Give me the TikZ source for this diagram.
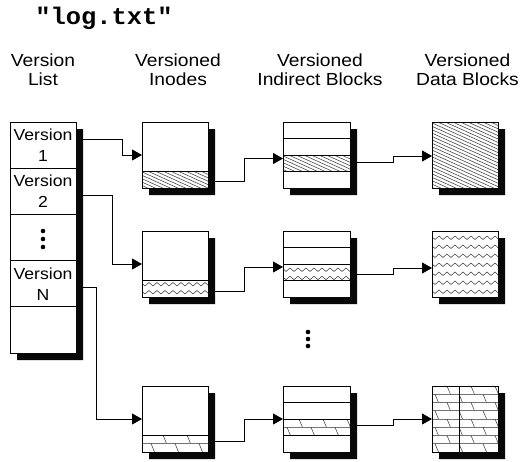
\documentclass[tikz,border=0pt]{standalone}
\usepackage{fontspec}
\setmainfont{Liberation Sans}
\newfontfamily\headfont{Liberation Sans}[FakeStretch=1.1]
\newfontfamily\logfont{Liberation Mono}[FakeStretch=1.06]
\usetikzlibrary{arrows.meta,calc}

\definecolor{shadowcol}{RGB}{8,8,8}
\tikzset{
  patline/.style={line width=0.55pt, draw=black!75},
  brickline/.style={line width=0.55pt, draw=black!55},
  outline/.style={line width=0.8pt, draw=black},
  shadowfill/.style={fill=shadowcol},
  box/.style={draw=black, line width=0.8pt, inner sep=0pt, outer sep=0pt,
    anchor=north west, minimum width=66pt, minimum height=66pt},
  rowbox/.style={draw=black, line width=0.8pt, inner sep=0pt, outer sep=0pt,
    anchor=north west, minimum width=66pt, minimum height=46.2pt, align=center,
    font=\headfont\fontsize{16}{21}\selectfont},
  head/.style={anchor=base, inner sep=0pt, font=\headfont\fontsize{17.5}{19}\selectfont},
  conn/.style={line width=0.8pt, draw=black, -{Triangle[length=10pt,width=11pt]}},
  dot/.style={fill=black},
}

\newcommand\hatchfill[4]{%
  \begin{scope}
    \clip (#1,#2) -- (#3,#2) -- (#3,#4) -- (#1,#4) -- cycle;
    \foreach \k in {-11,...,20}
      \draw[patline] (#1-2,#2+3.4*\k) -- ++(80,36);
  \end{scope}}

\newcommand\zigfill[7]{%
  \begin{scope}
    \clip (#1,#2) -- (#3,#2) -- (#3,#4) -- (#1,#4) -- cycle;
    \foreach \r in {1,...,#7}
      \draw[patline] (#1-1,#5+#6*\r-#6) \foreach \i in {1,...,9} {-- ++(4,3.5) -- ++(4,-3.5)};
  \end{scope}}

\newcommand\brickfill[7]{%
  \begin{scope}
    \clip (#1,#2) -- (#3,#2) -- (#3,#4) -- (#1,#4) -- cycle;
    \foreach \r in {1,...,#6}{
      \draw[brickline] (#1,#2+#5*\r-#5) -- (#3,#2+#5*\r-#5);
      \foreach \j in {0,...,3}{
        \pgfmathsetmacro\xx{#1+#7+mod(\r,2)*12+24*\j}
        \draw[patline] (\xx,#2+#5*\r-#5) -- ++(3.5,#5);
      }
    }
  \end{scope}}

\begin{document}
\begin{tikzpicture}[x=1pt,y=-1pt]
\useasboundingbox (0,0) rectangle (521,461);

% titles
\node[anchor=base, inner sep=0pt, font=\logfont\bfseries\fontsize{24}{26}\selectfont] (title) at (104,24) {"log.txt"};
\node[head] (h1a) at (43,66) {Version};
\node[head] (h1b) at (43,85) {List};
\node[head] (h2a) at (178,66) {Versioned};
\node[head] (h2b) at (178,85) {Inodes};
\node[head] (h3a) at (320,66) {Versioned};
\node[head] (h3b) at (320,85) {Indirect Blocks};
\node[head] (h4a) at (467.5,66) {Versioned};
\node[head] (h4b) at (467.5,85) {Data Blocks};

% version list
\node[box, minimum height=231pt] (list) at (10,122) {};
\node[rowbox] (r1) at (10,122) {Version\\1};
\node[rowbox] (r2) at (10,168.2) {Version\\2};
\node[rowbox] (r3) at (10,214.4) {};
\node[rowbox] (r4) at (10,260.6) {Version\\N};
\node[rowbox] (r5) at (10,306.8) {};
\fill[dot] (43,231) circle (2.3) (43,239) circle (2.3) (43,247) circle (2.3);

% boxes
\node[box] (in1) at (142,122) {};
\node[box] (in2) at (142,231) {};
\node[box] (in3) at (142,386) {};
\node[box, minimum width=67pt] (ib1) at (283,122) {};
\node[box, minimum width=67pt] (ib2) at (283,231) {};
\node[box, minimum width=67pt] (ib3) at (283,386) {};
\node[box] (db1) at (432,122) {};
\node[box] (db2) at (432,231) {};
\node[box] (db3) at (432,386) {};

% patterns
\hatchfill{142}{171}{208}{188}
\hatchfill{283}{155}{350}{171.5}
\hatchfill{432}{122}{498}{188}
\zigfill{142}{280}{208}{297}{282.5}{8}{2}
\zigfill{283}{264}{350}{280.5}{268}{8.2}{2}
\zigfill{432}{231}{498}{297}{236}{9}{7}
\brickfill{142}{435}{208}{452}{8.5}{2}{9}
\brickfill{283}{419}{350}{435.5}{8.25}{2}{4}
\brickfill{432}{386}{498}{452}{8.25}{8}{3}
\draw[outline] (459,386) -- (459,452);

% dividers and outlines
\draw[outline] (142,171) -- (208,171);
\draw[outline] (142,280) -- (208,280);
\draw[outline] (142,435) -- (208,435);
\foreach \t in {122,231,386}{
  \draw[outline] (283,\t+16.5) -- (350,\t+16.5);
  \draw[outline] (283,\t+33) -- (350,\t+33);
  \draw[outline] (283,\t+49.5) -- (350,\t+49.5);
}
\foreach \n in {in1,in2,in3,ib1,ib2,ib3,db1,db2,db3}
  \draw[outline] (\n.north west) rectangle (\n.south east);

% middle dots
\fill[dot] (308,332) circle (2.3) (308,339) circle (2.3) (308,346) circle (2.3);

% connectors
\draw[conn] ($(r1.east)+(0,-6)$) -| ($(in1.west)+(-20,0)$) -- (in1.west);
\draw[conn] ($(r2.east)+(0,4)$) -| ($(in2.west)+(-30,0)$) -- (in2.west);
\draw[conn] ($(r4.east)+(0,4)$) -| ($(in3.west)+(-46,0)$) -- (in3.west);

\draw[conn] ($(in1.east)+(0,26)$) -| ($(ib1.west)+(-39,3.5)$) -- ($(ib1.west)+(0,3.5)$);
\draw[conn] ($(in2.east)+(0,27)$) -| ($(ib2.west)+(-39,3)$) -- ($(ib2.west)+(0,3)$);
\draw[conn] ($(in3.east)+(0,22)$) -| ($(ib3.west)+(-39,0)$) -- (ib3.west);

\draw[conn] ($(ib1.east)+(0,7)$) -| ($(db1.west)+(-39,1)$) -- ($(db1.west)+(0,1)$);
\draw[conn] ($(ib2.east)+(0,10)$) -| ($(db2.west)+(-39,4)$) -- ($(db2.west)+(0,4)$);
\draw[conn] ($(ib3.east)+(0,6)$) -| ($(db3.west)+(-39,0)$) -- (db3.west);

% drop shadows: right and bottom strips, drawn last
\fill[shadowfill] (76,129) -- (83,129) -- (83,360) -- (17,360) -- (17,353) -- (76,353) -- cycle;
\fill[shadowfill] (208,129) -- (215,129) -- (215,195) -- (149,195) -- (149,188) -- (208,188) -- cycle;
\fill[shadowfill] (208,238) -- (215,238) -- (215,304) -- (149,304) -- (149,297) -- (208,297) -- cycle;
\fill[shadowfill] (208,393) -- (215,393) -- (215,459) -- (149,459) -- (149,452) -- (208,452) -- cycle;
\fill[shadowfill] (350,129) -- (357,129) -- (357,195) -- (290,195) -- (290,188) -- (350,188) -- cycle;
\fill[shadowfill] (350,238) -- (357,238) -- (357,304) -- (290,304) -- (290,297) -- (350,297) -- cycle;
\fill[shadowfill] (350,393) -- (357,393) -- (357,459) -- (290,459) -- (290,452) -- (350,452) -- cycle;
\fill[shadowfill] (498,129) -- (505,129) -- (505,195) -- (439,195) -- (439,188) -- (498,188) -- cycle;
\fill[shadowfill] (498,238) -- (505,238) -- (505,304) -- (439,304) -- (439,297) -- (498,297) -- cycle;
\fill[shadowfill] (498,393) -- (505,393) -- (505,459) -- (439,459) -- (439,452) -- (498,452) -- cycle;
\end{tikzpicture}
\end{document}
